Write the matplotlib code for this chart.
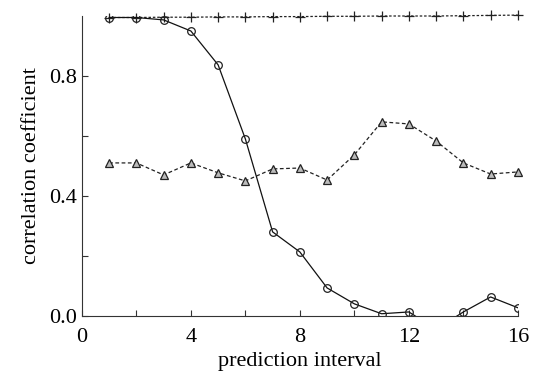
import numpy as np
import matplotlib.pyplot as plt

plt.rcParams['font.family'] = ['Liberation Serif', 'DejaVu Serif']

# prediction interval
interval = np.arange(1, 17)

# correlation coefficients
corr_circle = [0.995, 0.995, 0.987, 0.95, 0.837, 0.59, 0.28, 0.213,
               0.093, 0.04, 0.007, 0.013, -0.045, 0.013, 0.063, 0.027]
corr_plus = [0.995, 0.995, 0.996, 0.996, 0.997, 0.997, 0.998, 0.998,
             0.999, 0.999, 1.0, 1.0, 1.0, 1.001, 1.002, 1.003]
corr_tri = [0.51, 0.51, 0.47, 0.51, 0.477, 0.45, 0.49, 0.493,
            0.453, 0.537, 0.647, 0.64, 0.583, 0.51, 0.473, 0.48]

fig = plt.figure(figsize=(5.35, 3.81), dpi=100)
ax = fig.add_axes([0.153, 0.171, 0.815, 0.787])

ax.plot(interval, corr_plus, color='#222222', linestyle=(0, (2, 1.5)), linewidth=0.9,
        marker='+', markersize=7, markeredgewidth=0.9, clip_on=False)
ax.plot(interval, corr_tri, color='#222222', linestyle=(0, (3, 2)), linewidth=0.9,
        marker='^', markersize=5.5, markerfacecolor='#bbbbbb', markeredgecolor='#222222',
        markeredgewidth=0.9, clip_on=False)
ax.plot(interval, corr_circle, color='#111111', linestyle='-', linewidth=0.9,
        marker='o', markersize=5.5, markerfacecolor='none', markeredgecolor='#222222',
        markeredgewidth=0.9)

ax.set_xlim(0, 16)
ax.set_ylim(0, 1.0)
ax.set_xticks([0, 4, 8, 12, 16])
ax.set_xticks([2, 6, 10, 14], minor=True)
ax.set_yticks([0.0, 0.4, 0.8])
ax.set_yticks([0.2, 0.6], minor=True)
ax.set_yticklabels(['0.0', '0.4', '0.8'])

ax.spines['top'].set_visible(False)
ax.spines['right'].set_visible(False)
for s in ['left', 'bottom']:
    ax.spines[s].set_linewidth(0.8)
    ax.spines[s].set_color('#333333')

ax.tick_params(which='both', direction='in', length=4, width=0.8, colors='#333333',
               labelcolor='black', labelsize=16)
ax.tick_params(axis='x', pad=9)

ax.set_xlabel('prediction interval', fontsize=16, labelpad=3)
ax.set_ylabel('correlation coefficient', fontsize=16, labelpad=6)

fig.savefig('out.png', dpi=100)
